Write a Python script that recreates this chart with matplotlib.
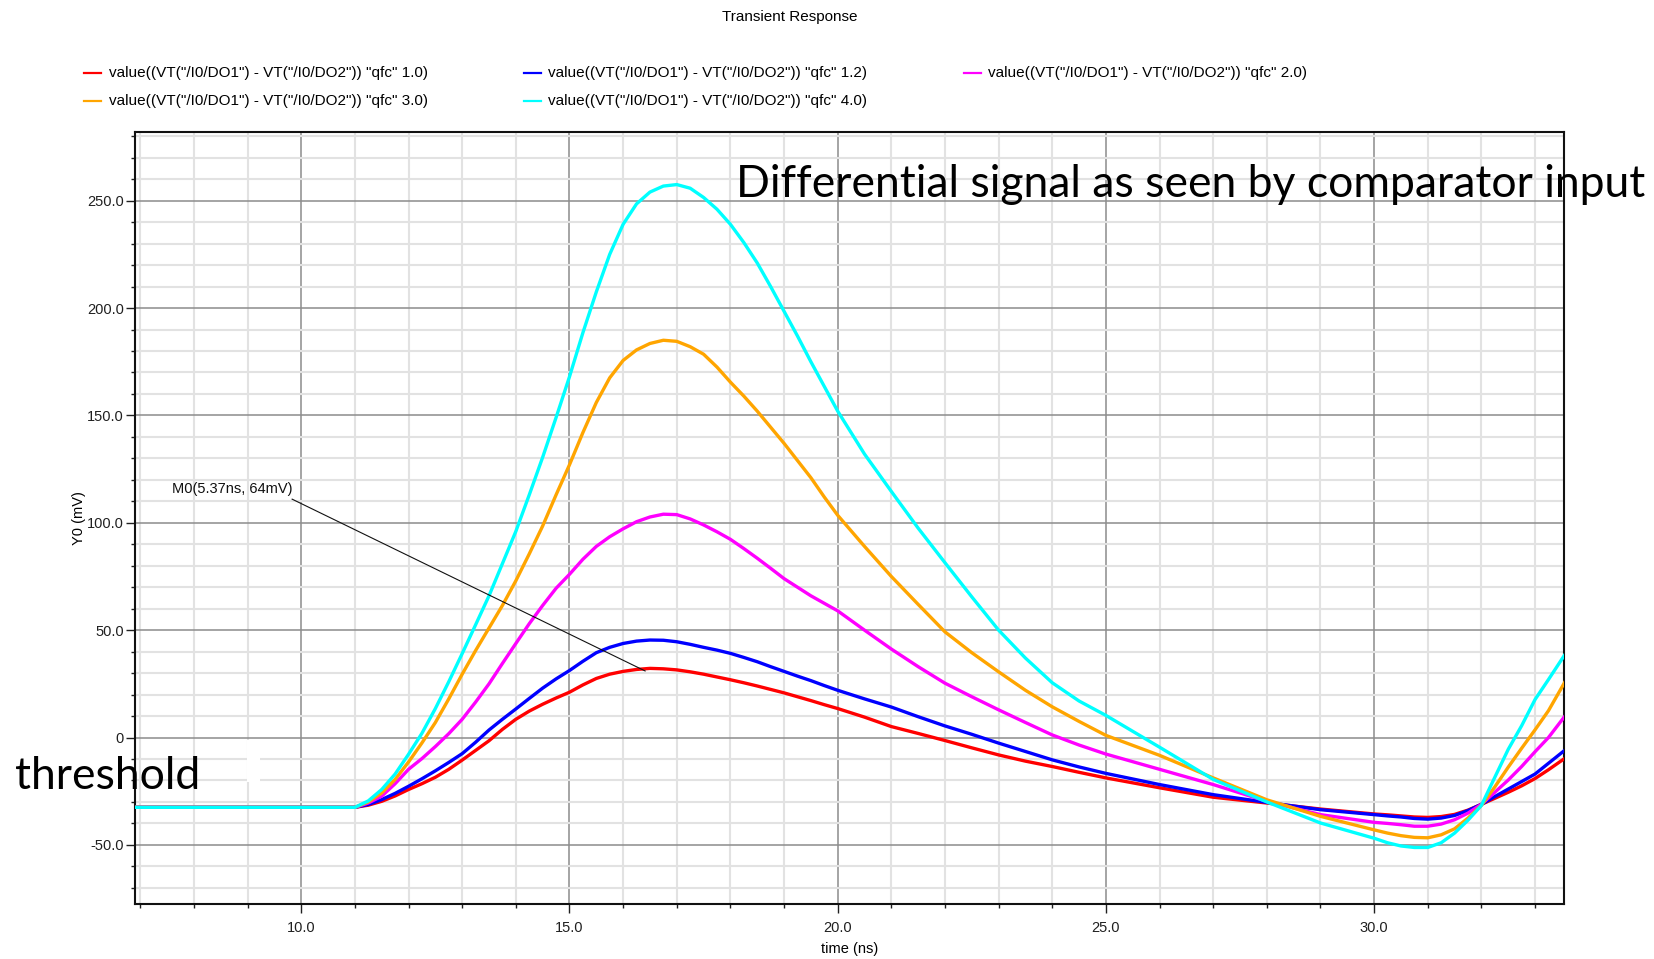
import matplotlib.pyplot as plt
from matplotlib.lines import Line2D
from matplotlib.patches import Rectangle
from matplotlib.ticker import MultipleLocator, FuncFormatter

# time axis (ns) shared by all sweeps
t_ns = [6.9,
        11.0, 11.25, 11.5, 11.75, 12.0, 12.25, 12.5, 12.75, 13.0, 13.25, 13.5, 13.75,
        14.0, 14.25, 14.5, 14.75, 15.0, 15.25, 15.5, 15.75, 16.0, 16.25, 16.5, 16.75,
        17.0, 17.25, 17.5, 17.75, 18.0, 18.25, 18.5, 18.75, 19.0, 19.25, 19.5, 19.75,
        20.0,
        20.5, 21.0, 21.5, 22.0, 22.5, 23.0, 23.5, 24.0, 24.5, 25.0,
        26.0, 27.0, 28.0, 29.0,
        30.0, 30.25, 30.5, 30.75, 31.0, 31.25, 31.5, 31.75, 32.0, 32.25, 32.5, 32.75,
        33.0, 33.25,
        33.6]

# differential output (mV) for each qfc value
v_qfc_1p0 = [-32.5,
             -32.5, -31.5, -29.7, -27.2, -24.2, -21.5, -18.5, -14.8, -10.5, -6.0, -1.5, 3.8,
             8.5, 12.3, 15.5, 18.4, 21.1, 24.5, 27.5, 29.5, 30.8, 31.7, 32.2, 32.0,
             31.5, 30.6, 29.5, 28.2, 26.9, 25.5, 24.0, 22.4, 20.8, 19.0, 17.2, 15.3,
             13.5,
             9.5, 5.1, 1.9, -1.4, -4.8, -8.1, -11.0, -13.5, -16.2, -18.8,
             -23.4, -27.8, -30.5, -33.3,
             -35.6, -36.0, -36.5, -37.0, -37.2, -36.8, -35.8, -33.8, -31.1, -28.3, -25.5, -22.5,
             -19.1, -15.0,
             -8.9]
v_qfc_1p2 = [-32.5,
             -32.5, -31.2, -28.9, -26.0, -22.7, -19.2, -15.5, -11.6, -7.5, -2.2, 3.5, 8.5,
             13.3, 18.2, 23.0, 27.3, 31.2, 35.5, 39.5, 42.0, 43.8, 44.9, 45.4, 45.3,
             44.6, 43.4, 42.0, 40.7, 39.2, 37.3, 35.3, 33.0, 30.8, 28.6, 26.5, 24.2,
             22.0,
             18.0, 14.2, 9.7, 5.4, 1.5, -2.6, -6.5, -10.4, -13.7, -16.7,
             -21.9, -26.6, -30.2, -33.6,
             -35.9, -36.5, -37.0, -37.7, -38.0, -37.5, -36.3, -34.0, -31.1, -27.5, -24.0, -20.5,
             -17.0, -12.0,
             -5.0]
v_qfc_2p0 = [-32.5,
             -32.5, -30.5, -27.3, -21.5, -14.8, -9.8, -4.2, 1.8, 8.5, 16.5, 25.0, 34.5,
             43.8, 53.0, 61.5, 69.5, 76.0, 83.0, 89.0, 93.5, 97.2, 100.5, 102.7, 104.0,
             103.8, 101.8, 99.0, 95.8, 92.3, 88.0, 83.5, 78.8, 74.0, 70.0, 66.0, 62.5,
             59.0,
             50.0, 41.2, 33.0, 25.3, 19.0, 12.9, 7.0, 1.2, -3.5, -7.7,
             -14.8, -21.9, -29.7, -35.9,
             -39.5, -40.0, -40.6, -41.3, -41.3, -40.3, -38.3, -35.2, -31.1, -25.5, -19.8, -13.5,
             -6.6, 0.0,
             11.4]
v_qfc_3p0 = [-32.5,
             -32.5, -30.0, -25.8, -19.5, -11.4, -2.5, 7.0, 18.0, 29.5, 40.5, 51.0, 61.5,
             73.0, 85.5, 98.5, 113.0, 127.0, 142.0, 156.0, 167.5, 175.6, 180.5, 183.5, 185.0,
             184.5, 182.0, 178.5, 172.5, 165.5, 159.0, 152.0, 144.5, 137.0, 129.0, 121.0, 112.0,
             103.5,
             89.0, 75.0, 62.0, 49.2, 39.5, 30.6, 22.0, 14.3, 7.5, 1.0,
             -8.3, -18.8, -29.0, -36.7,
             -43.0, -44.5, -45.7, -46.5, -46.7, -45.3, -42.5, -37.5, -31.6, -23.0, -13.8, -5.0,
             3.6, 12.5,
             27.8]
v_qfc_4p0 = [-32.5,
             -32.5, -29.5, -24.2, -17.0, -7.8, 2.0, 13.5, 26.0, 39.1, 52.5, 66.0, 81.0,
             96.0, 113.0, 130.5, 149.0, 168.0, 188.5, 207.5, 225.0, 239.0, 248.5, 254.0, 256.8,
             257.5, 255.8, 251.5, 246.0, 239.0, 230.5, 221.0, 210.0, 198.5, 187.0, 175.0, 163.5,
             152.0,
             132.0, 114.6, 97.5, 81.4, 65.5, 50.0, 37.0, 25.5, 17.0, 10.3,
             -4.5, -19.5, -30.0, -39.8,
             -46.9, -49.0, -50.5, -51.2, -51.2, -49.0, -44.5, -38.5, -31.6, -18.5, -5.5, 5.5,
             17.7, 27.0,
             40.3]

qfc_labels = ["1.0", "1.2", "2.0", "3.0", "4.0"]
series = [v_qfc_1p0, v_qfc_1p2, v_qfc_2p0, v_qfc_3p0, v_qfc_4p0]
colors = ["#ff0000", "#0000ff", "#ff00ff", "#ffa500", "#00ffff"]

# marker M0: label anchor and the point it points at (data coords)
m0_text = "M0(5.37ns, 64mV)"
m0_label_xy = (9.83, 111.0)
m0_point_xy = (16.41, 31.0)

ui_font = ["Liberation Sans", "DejaVu Sans"]
note_font = ["Lato", "DejaVu Sans"]

fig = plt.figure(figsize=(16.54, 9.59), dpi=100)
ax = fig.add_axes([0.0816, 0.0574, 0.8640, 0.8050])

# grid: light minor lines, darker major lines
ax.set_xlim(6.9, 33.54)
ax.set_ylim(-77.5, 282)
ax.xaxis.set_major_locator(MultipleLocator(5))
ax.xaxis.set_minor_locator(MultipleLocator(1))
ax.yaxis.set_major_locator(MultipleLocator(50))
ax.yaxis.set_minor_locator(MultipleLocator(10))
ax.grid(which="minor", color="#e2e2e2", linewidth=1.5, zorder=0)
ax.grid(which="major", color="#8c8c8c", linewidth=1.1, zorder=0)
ax.set_axisbelow(True)

ax.xaxis.set_major_formatter(FuncFormatter(lambda v, p: f"{v:.1f}"))
ax.yaxis.set_major_formatter(FuncFormatter(lambda v, p: "0" if abs(v) < 1e-9 else f"{v:.1f}"))
ax.tick_params(which="major", direction="out", length=6.5, width=1.0, color="#202020",
               labelsize=10.5, labelcolor="#202020", pad=1.5)
ax.tick_params(axis="x", which="major", pad=6)
ax.tick_params(which="minor", direction="out", length=3.2, width=1.0, color="#202020")
for lab in ax.get_xticklabels() + ax.get_yticklabels():
    lab.set_family(ui_font)
for s in ax.spines.values():
    s.set_color("#111111")
    s.set_linewidth(1.5)

for vals, c in zip(series, colors):
    ax.plot(t_ns, vals, color=c, linewidth=2.4, solid_joinstyle="round", zorder=3)

# marker annotation
ax.plot([m0_label_xy[0], m0_point_xy[0]], [m0_label_xy[1], m0_point_xy[1]],
        color="#111111", linewidth=0.8, zorder=4)
ax.text(m0_label_xy[0], m0_label_xy[1] + 1.5, m0_text, ha="right", va="bottom",
        fontsize=10.5, family=ui_font, color="#111111", zorder=5)

ax.set_xlabel("time (ns)", fontsize=10.5, family=ui_font, labelpad=5)
ax.set_ylabel("Y0 (mV)", fontsize=10.5, family=ui_font, labelpad=1)

fig.text(0.4776, 0.982, "Transient Response", ha="center", va="center",
         fontsize=11, family=ui_font)

# legend laid out in three columns
leg_cols = [(84, 108.6), (524, 548.5), (964, 988)]
leg_rows = [72.8, 101.3]
W, H = 1654.0, 959.0
for i, (lbl, c) in enumerate(zip(qfc_labels, colors)):
    r, col = divmod(i, 3)
    x0, xt = leg_cols[col]
    y = 1 - leg_rows[r] / H
    fig.add_artist(Line2D([x0 / W, (x0 + 17) / W], [y, y], color=c, linewidth=1.6,
                          transform=fig.transFigure))
    fig.text(xt / W, y, f'value((VT("/I0/DO1") - VT("/I0/DO2")) "qfc" {lbl})',
             ha="left", va="center", fontsize=11, family=ui_font)

# eraser mark left over near the threshold note
fig.add_artist(Rectangle((247 / W, 1 - 782 / H), 13 / W, 42 / H, transform=fig.transFigure,
                         facecolor="white", edgecolor="none", zorder=6))

fig.text(736 / W, 1 - 196.7 / H, "Differential signal as seen by comparator input",
         ha="left", va="baseline", fontsize=32, family=note_font, zorder=7)
fig.text(15 / W, 1 - 789.3 / H, "threshold", ha="left", va="baseline",
         fontsize=32, family=note_font, zorder=7)

fig.savefig("out.png", dpi=100)
